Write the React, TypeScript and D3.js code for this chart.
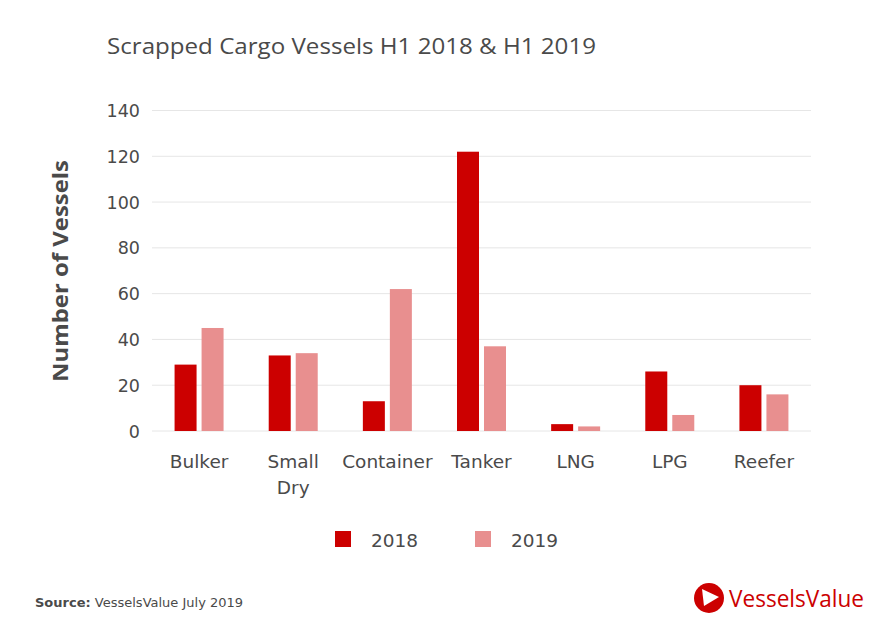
import React from "react";
import * as d3 from "d3";

const categories = ["Bulker", "Small Dry", "Container", "Tanker", "LNG", "LPG", "Reefer"];
const categoryLines = [["Bulker"], ["Small", "Dry"], ["Container"], ["Tanker"], ["LNG"], ["LPG"], ["Reefer"]];
const series2018 = [29, 33, 13, 122, 3, 26, 20];
const series2019 = [45, 34, 62, 37, 2, 7, 16];
const seriesNames = ["2018", "2019"];
const yTicks = [0, 20, 40, 60, 80, 100, 120, 140];

const W = 892;
const H = 621;
const FONT = "'Open Sans', sans-serif";
const WIDE = "'DejaVu Sans', sans-serif";
const C2018 = "#cc0000";
const C2019 = "#e88f8f";
const TEXT = "#4a4a4a";

export default function App() {
  const left = 152;
  const right = 811;
  const top = 110.5;
  const bottom = 431;
  const x = d3.scaleBand<string>().domain(categories).range([left, right]).padding(0);
  const y = d3.scaleLinear().domain([0, 140]).range([bottom, top]);
  const barW = 22;
  const gap = 5;
  const colors = [C2018, C2019];
  const data = [series2018, series2019];

  return (
    <div style={{ position: "absolute", left: 0, top: 0 }}>
      <svg width={W} height={H} style={{ display: "block", background: "#fff" }}>
        <text x={107} y={54} fontFamily={FONT} fontSize={21} fill={TEXT} textLength={489} lengthAdjust="spacingAndGlyphs">
          Scrapped Cargo Vessels H1 2018 &amp; H1 2019
        </text>
        {yTicks.map((t) => (
          <g key={t}>
            <line x1={left} x2={right} y1={y(t)} y2={y(t)} stroke="#e6e6e6" strokeWidth={1} />
            <text x={140} y={y(t) + 6.5} textAnchor="end" fontFamily={WIDE} fontSize={17.5} fill={TEXT}>
              {t}
            </text>
          </g>
        ))}
        <text
          transform={`translate(68, 271) rotate(-90)`}
          textAnchor="middle"
          fontFamily={FONT}
          fontSize={22}
          fontWeight="bold"
          fill={TEXT}
          textLength={222}
          lengthAdjust="spacingAndGlyphs"
        >
          Number of Vessels
        </text>
        {data.map((s, si) =>
          s.map((v, i) => {
            const cx = (x(categories[i]) as number) + x.bandwidth() / 2;
            const bx = si === 0 ? cx - gap / 2 - barW : cx + gap / 2;
            return (
              <rect key={`${si}-${i}`} x={bx} y={y(v)} width={barW} height={y(0) - y(v)} fill={colors[si]} />
            );
          })
        )}
        {categoryLines.map((lines, i) => {
          const cx = (x(categories[i]) as number) + x.bandwidth() / 2;
          return (
            <text key={i} x={cx} textAnchor="middle" fontFamily={WIDE} fontSize={18.5} fill={TEXT}>
              {lines.map((l, j) => (
                <tspan key={j} x={cx} y={468 + j * 26}>
                  {l}
                </tspan>
              ))}
            </text>
          );
        })}
        {seriesNames.map((n, i) => (
          <g key={n}>
            <rect x={335 + i * 140} y={531} width={16} height={16} fill={colors[i]} />
            <text x={371 + i * 140} y={547} fontFamily={WIDE} fontSize={18.5} fill={TEXT}>
              {n}
            </text>
          </g>
        ))}
        <text x={35} y={607} fontFamily={WIDE} fontSize={13} fill={TEXT}>
          <tspan fontWeight="bold">Source:</tspan> VesselsValue July 2019
        </text>
        <g>
          <circle cx={709} cy={598} r={15} fill={C2018} />
          <path d="M702,589 L719,597 L704,606 Z" fill="#fff" />
          <text x={729} y={607} fontFamily={FONT} fontSize={23} fill={C2018} textLength={135} lengthAdjust="spacingAndGlyphs">
            VesselsValue
          </text>
        </g>
      </svg>
    </div>
  );
}
